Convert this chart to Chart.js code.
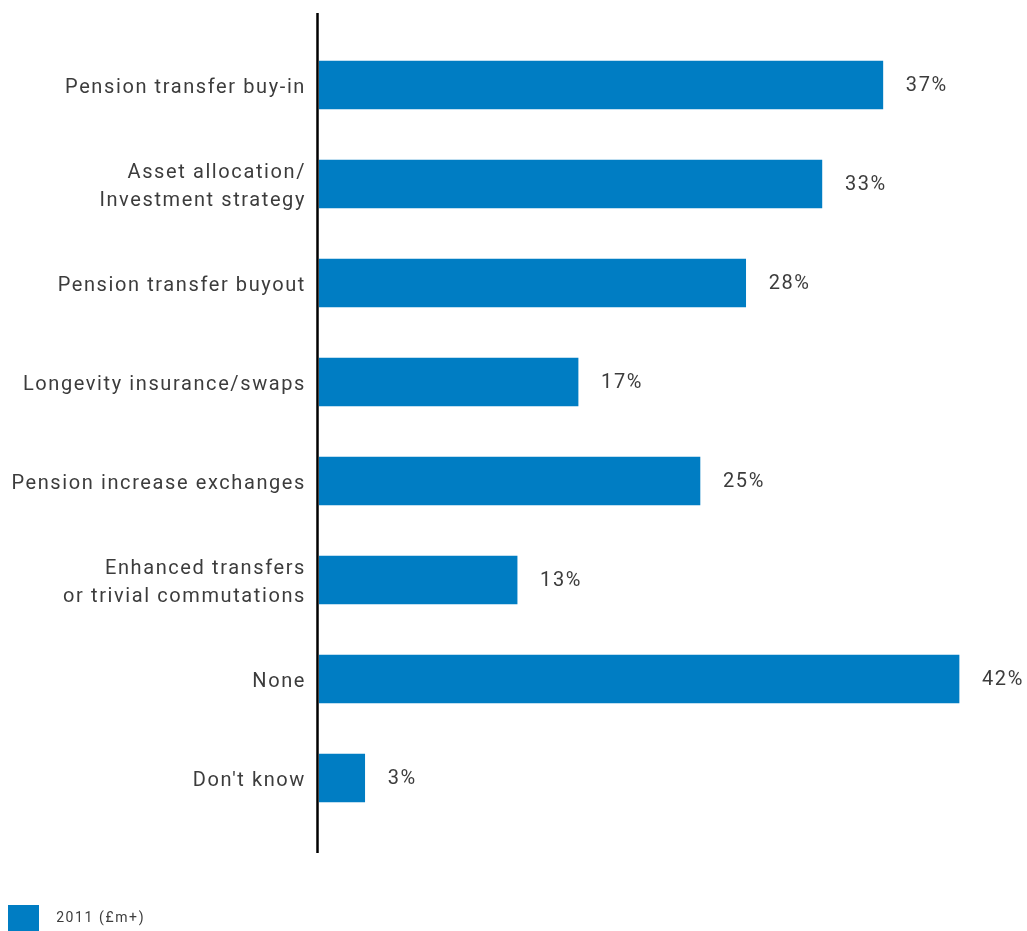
<!DOCTYPE html>
<html>
<head>
<meta charset="utf-8">
<script src="https://cdn.jsdelivr.net/npm/chart.js@4/dist/chart.umd.min.js"></script>
<style>
  html, body { margin: 0; padding: 0; background: #ffffff; }
  #wrap { width: 1027px; height: 931px; position: relative; }
</style>
</head>
<body>
<div id="wrap"><canvas id="chart"></canvas></div>
<script>
const categories = [
  'Pension transfer buy-in',
  ['Asset allocation/', 'Investment strategy'],
  'Pension transfer buyout',
  'Longevity insurance/swaps',
  'Pension increase exchanges',
  ['Enhanced transfers', 'or trivial commutations'],
  'None',
  "Don't know"
];
const values2011 = [37, 33, 28, 17, 25, 13, 42, 3];
const seriesName = '2011 (£m+)';

const BAR_BLUE = '#007DC3';
const TEXT = '#3c3c3c';
const FONT = 'Roboto, "Open Sans", sans-serif';
const TRACKING = '1.6px';

// Slightly open letter spacing for all canvas text
const tracking = {
  id: 'tracking',
  beforeUpdate(chart) { chart.ctx.letterSpacing = TRACKING; },
  beforeDraw(chart) { chart.ctx.letterSpacing = TRACKING; }
};

// Vertical axis line running a little beyond the plotted bars, plus value labels
const extras = {
  id: 'extras',
  afterDatasetsDraw(chart) {
    const { ctx, chartArea } = chart;
    const x0 = chart.scales.x.getPixelForValue(0);
    ctx.save();
    ctx.strokeStyle = '#000';
    ctx.lineWidth = 2.5;
    ctx.beginPath();
    ctx.moveTo(x0 - 1.5, chartArea.top - 22.5);
    ctx.lineTo(x0 - 1.5, chartArea.bottom + 25.5);
    ctx.stroke();

    ctx.fillStyle = TEXT;
    ctx.font = '20px ' + FONT;
    ctx.textAlign = 'left';
    ctx.textBaseline = 'middle';
    chart.getDatasetMeta(0).data.forEach((bar, i) => {
      ctx.fillText(values2011[i] + '%', bar.x + 23, bar.y + 1);
    });
    ctx.restore();
  }
};

new Chart(document.getElementById('chart'), {
  type: 'bar',
  data: {
    labels: categories,
    datasets: [{
      label: seriesName,
      data: values2011,
      backgroundColor: BAR_BLUE,
      borderWidth: 0,
      barThickness: 48
    }]
  },
  options: {
    indexAxis: 'y',
    responsive: true,
    maintainAspectRatio: false,
    animation: false,
    layout: { padding: { top: 35.5, right: 0, left: 0, bottom: -10 } },
    scales: {
      x: {
        min: 0,
        max: 46.46,
        display: false
      },
      y: {
        afterFit(scale) { scale.width = 319; },
        grid: { display: false, drawTicks: false },
        border: { display: false },
        ticks: {
          color: TEXT,
          padding: 13,
          labelOffset: 3,
          font: { family: FONT, size: 20, lineHeight: 1.4 }
        }
      }
    },
    plugins: {
      legend: {
        position: 'bottom',
        align: 'start',
        title: {
          display: true,
          text: '',
          font: { size: 10, lineHeight: 1 },
          padding: { top: 59.5, bottom: 0 }
        },
        labels: {
          boxWidth: 31,
          boxHeight: 26,
          padding: 8,
          color: TEXT,
          font: { family: FONT, size: 14 },
          generateLabels(chart) {
            const items = Chart.defaults.plugins.legend.labels.generateLabels(chart);
            items.forEach(it => { it.text = '  ' + it.text; it.lineWidth = 0; });
            return items;
          }
        }
      },
      tooltip: { enabled: false }
    }
  },
  plugins: [tracking, extras]
});
</script>
</body>
</html>
